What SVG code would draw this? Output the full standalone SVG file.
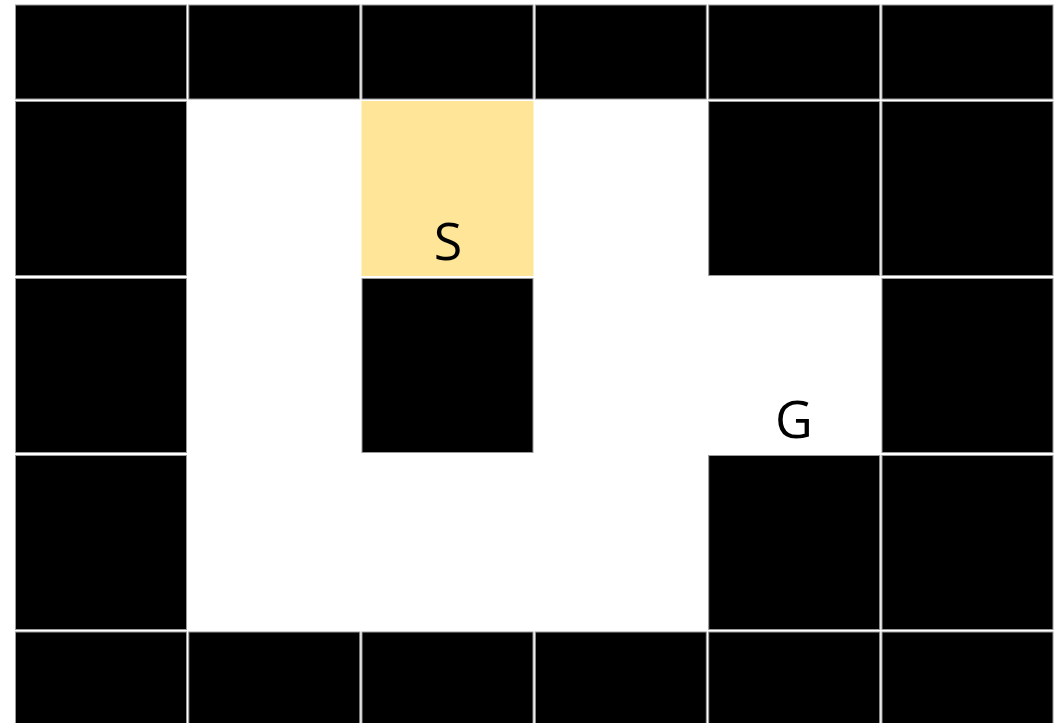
<svg xmlns="http://www.w3.org/2000/svg" width="1061" height="723" viewBox="0 0 1061 723">
<style>
.b{fill:#000;stroke:#9a9a9a;stroke-width:1}
.w{fill:#fff;stroke:#fff;stroke-width:1}
.y{fill:#ffe597;stroke:#ffe597;stroke-width:1}
.t{font-family:"Open Sans","Noto Sans",sans-serif;font-size:52px;fill:#000;text-anchor:middle}
</style>
<rect width="1061" height="723" fill="#fff"/>
<g id="row0">
<rect class="b" x="15.5" y="5" width="171" height="94"/>
<rect class="b" x="188.8" y="5" width="171" height="94"/>
<rect class="b" x="362" y="5" width="171" height="94"/>
<rect class="b" x="535.3" y="5" width="171" height="94"/>
<rect class="b" x="708.7" y="5" width="171" height="94"/>
<rect class="b" x="882" y="5" width="171" height="94"/>
</g>
<g id="row1">
<rect class="b" x="15.5" y="101.5" width="171" height="174"/>
<rect class="w" x="188.8" y="101.5" width="171" height="174"/>
<g id="start"><rect class="y" x="362" y="101.5" width="171" height="174"/><text class="t" x="448" y="260">S</text></g>
<rect class="w" x="535.3" y="101.5" width="171" height="174"/>
<rect class="b" x="708.7" y="101.5" width="171" height="174"/>
<rect class="b" x="882" y="101.5" width="171" height="174"/>
</g>
<g id="row2">
<rect class="b" x="15.5" y="278.5" width="171" height="174"/>
<rect class="w" x="188.8" y="278.5" width="171" height="174"/>
<rect class="b" x="362" y="278.5" width="171" height="174"/>
<rect class="w" x="535.3" y="278.5" width="171" height="174"/>
<g id="goal"><rect class="w" x="708.7" y="278.5" width="171" height="174"/><text class="t" x="794" y="438">G</text></g>
<rect class="b" x="882" y="278.5" width="171" height="174"/>
</g>
<g id="row3">
<rect class="b" x="15.5" y="455.5" width="171" height="174"/>
<rect class="w" x="188.8" y="455.5" width="171" height="174"/>
<rect class="w" x="362" y="455.5" width="171" height="174"/>
<rect class="w" x="535.3" y="455.5" width="171" height="174"/>
<rect class="b" x="708.7" y="455.5" width="171" height="174"/>
<rect class="b" x="882" y="455.5" width="171" height="174"/>
</g>
<g id="row4">
<rect class="b" x="15.5" y="632" width="171" height="120"/>
<rect class="b" x="188.8" y="632" width="171" height="120"/>
<rect class="b" x="362" y="632" width="171" height="120"/>
<rect class="b" x="535.3" y="632" width="171" height="120"/>
<rect class="b" x="708.7" y="632" width="171" height="120"/>
<rect class="b" x="882" y="632" width="171" height="120"/>
</g>
<g id="connectors"/>
</svg>
